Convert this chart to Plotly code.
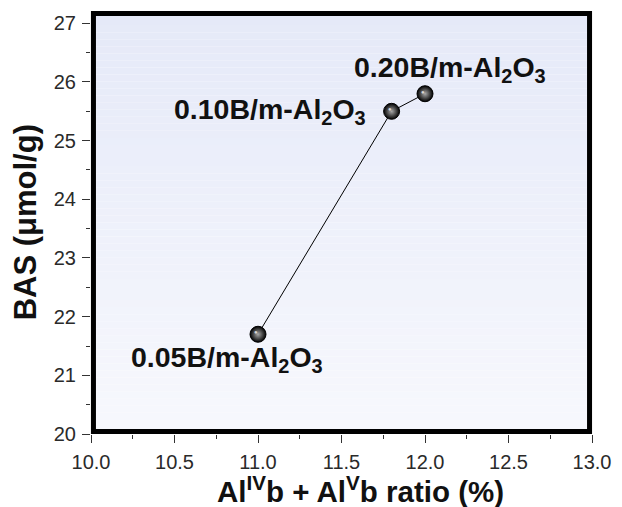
import plotly.graph_objects as go

# Al(IV)b + Al(V)b ratio (%) vs. Brønsted acid sites for the boron-modified aluminas
ratio = [11.0, 11.8, 12.0]
bas = [21.7, 25.5, 25.8]
samples = ["0.05B/m-Al<sub>2</sub>O<sub>3</sub>",
           "0.10B/m-Al<sub>2</sub>O<sub>3</sub>",
           "0.20B/m-Al<sub>2</sub>O<sub>3</sub>"]

x_ticks = [10.0, 10.5, 11.0, 11.5, 12.0, 12.5, 13.0]
y_ticks = [20, 21, 22, 23, 24, 25, 26, 27]

FONT = "Liberation Sans, Arial, sans-serif"

fig = go.Figure()

fig.add_trace(go.Scatter(
    x=ratio, y=bas, mode="lines+markers",
    line=dict(color="black", width=1),
    marker=dict(size=16, color="black",
                gradient=dict(type="radial", color="#a8a8a8"),
                line=dict(color="black", width=1)),
    hoverinfo="skip", showlegend=False,
))

# glossy highlight on each sphere
annotations = []
for xv, yv in zip(ratio, bas):
    annotations.append(dict(
        x=xv, y=yv, xref="x", yref="y", text="●", showarrow=False,
        xshift=-2, yshift=2,
        font=dict(family=FONT, size=6, color="rgba(235,235,235,0.85)")))

# label placement (pixel offsets from each point)
offsets = [
    dict(xanchor="center", xshift=-31, yshift=-25),
    dict(xanchor="right", xshift=-24, yshift=0),
    dict(xanchor="center", xshift=25, yshift=25),
]
for xv, yv, name, off in zip(ratio, bas, samples, offsets):
    annotations.append(dict(
        x=xv, y=yv, xref="x", yref="y", text=f"<b>{name}</b>",
        showarrow=False, yanchor="middle",
        font=dict(family=FONT, size=28.5, color="#111"), **off))

# axis titles
annotations.append(dict(
    x=0.537, y=-0.131, xref="paper", yref="paper",
    text="<b>Al<sup>IV</sup>b + Al<sup>V</sup>b ratio (%)</b>",
    showarrow=False, xanchor="center", yanchor="middle", borderpad=0,
    font=dict(family=FONT, size=29.5, color="#111")))
annotations.append(dict(
    x=-0.13, y=0.5, xref="paper", yref="paper",
    text="<b>BAS (μmol/g)</b>", textangle=-90,
    showarrow=False, xanchor="center", yanchor="middle",
    font=dict(family=FONT, size=31, color="#111")))

# vertical background gradient, lavender at top fading to near white
shapes = []
n = 60
top = (229, 233, 248)
bot = (247, 248, 253)
for i in range(n):
    t = i / (n - 1)
    c = tuple(round(top[k] + (bot[k] - top[k]) * t) for k in range(3))
    shapes.append(dict(
        type="rect", xref="paper", yref="paper", layer="below",
        x0=0, x1=1, y0=1 - (i + 1) / n, y1=1 - i / n,
        fillcolor=f"rgb{c}", line=dict(width=0)))

# thick frame drawn inside the plotting area
W, H = 510, 423
shapes.append(dict(
    type="rect", xref="paper", yref="paper", layer="above",
    x0=2.5 / W, x1=1 - 2.5 / W, y0=2.5 / H, y1=1 - 2.5 / H,
    line=dict(color="black", width=5), fillcolor="rgba(0,0,0,0)"))

axis_common = dict(
    showgrid=False, zeroline=False, showline=False,
    ticks="outside", ticklen=8, tickwidth=1, tickcolor="#333",
    tickfont=dict(family=FONT, size=20, color="#2a2a2a"),
    ticklabelstandoff=2,
)

fig.update_layout(
    width=622, height=507,
    margin=dict(l=91, r=21, t=11, b=73),
    paper_bgcolor="white", plot_bgcolor="white",
    xaxis=dict(range=[10, 13], tickvals=x_ticks,
               ticktext=[f"{v:.1f}" for v in x_ticks],
               minor=dict(dtick=0.25, ticklen=4, tickcolor="#333", ticks="outside"),
               **axis_common),
    yaxis=dict(range=[20, 27.21], tickvals=y_ticks,
               minor=dict(dtick=0.5, ticklen=4, tickcolor="#333", ticks="outside"),
               **axis_common),
    shapes=shapes, annotations=annotations,
)

fig.write_html("out.html")
